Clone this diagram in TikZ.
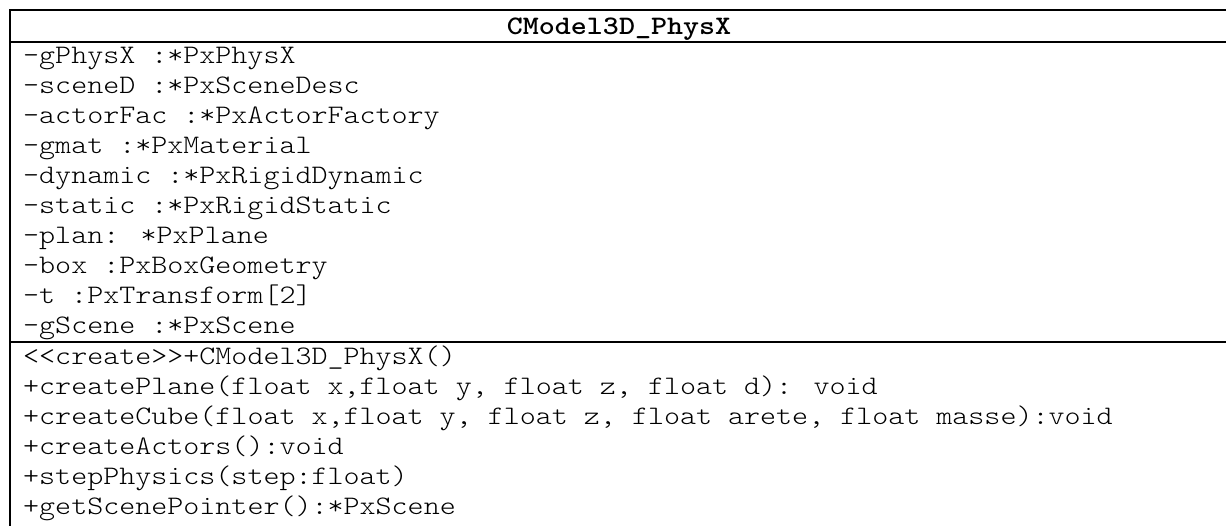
\documentclass[tikz,border=0pt]{standalone}
\usepackage{fontspec}
\newfontfamily\umlmono[FakeStretch=1.143]{Latin Modern Mono Light}
\begin{document}
\begin{tikzpicture}[x=1pt,y=1pt,
  umltext/.style={anchor=base west,inner sep=0pt,font=\umlmono\fontsize{26.7}{30}\selectfont},
  umltitle/.style={anchor=base,inner sep=0pt,font=\umlmono\bfseries\fontsize{26.7}{30}\selectfont},
  umlline/.style={line width=2pt,line cap=rect}]
\useasboundingbox (0,0) rectangle (1226,-525);
\clip (0,0) rectangle (1226,-525);
\fill[white] (0,0) rectangle (1226,-525);
% box frame
\coordinate (tl) at (10,-10);
\coordinate (tr) at (1240,-10);
\coordinate (bl) at (10,-540);
\coordinate (s1l) at (10,-42);
\coordinate (s1r) at (1240,-42);
\coordinate (s2l) at (10,-342);
\coordinate (s2r) at (1240,-342);
\draw[umlline] (tr) -- (tl) -- (bl);
\draw[umlline] (s1l) -- (s1r);
\draw[umlline] (s2l) -- (s2r);
% title
\node[umltitle] (title) at (619,-34) {CModel3D\_PhysX};
% attributes
\node[umltext] (a1) at (23,-63) {-gPhysX :*PxPhysX};
\node[umltext] (a2) at (23,-93) {-sceneD :*PxSceneDesc};
\node[umltext] (a3) at (23,-123) {-actorFac :*PxActorFactory};
\node[umltext] (a4) at (23,-153) {-gmat :*PxMaterial};
\node[umltext] (a5) at (23,-183) {-dynamic :*PxRigidDynamic};
\node[umltext] (a6) at (23,-213) {-static :*PxRigidStatic};
\node[umltext] (a7) at (23,-243) {-plan: *PxPlane};
\node[umltext] (a8) at (23,-273) {-box :PxBoxGeometry};
\node[umltext] (a9) at (23,-303) {-t :PxTransform[2]};
\node[umltext] (a10) at (23,-333) {-gScene :*PxScene};
% methods
\node[umltext] (m1) at (23,-364) {<{}<create>{}>+CModel3D\_PhysX()};
\node[umltext] (m2) at (23,-394) {+createPlane(float x,float y, float z, float d): void};
\node[umltext] (m3) at (23,-424) {+createCube(float x,float y, float z, float arete, float masse):void};
\node[umltext] (m4) at (23,-454) {+createActors():void};
\node[umltext] (m5) at (23,-484) {+stepPhysics(step:float)};
\node[umltext] (m6) at (23,-514) {+getScenePointer():*PxScene};
\end{tikzpicture}
\end{document}
